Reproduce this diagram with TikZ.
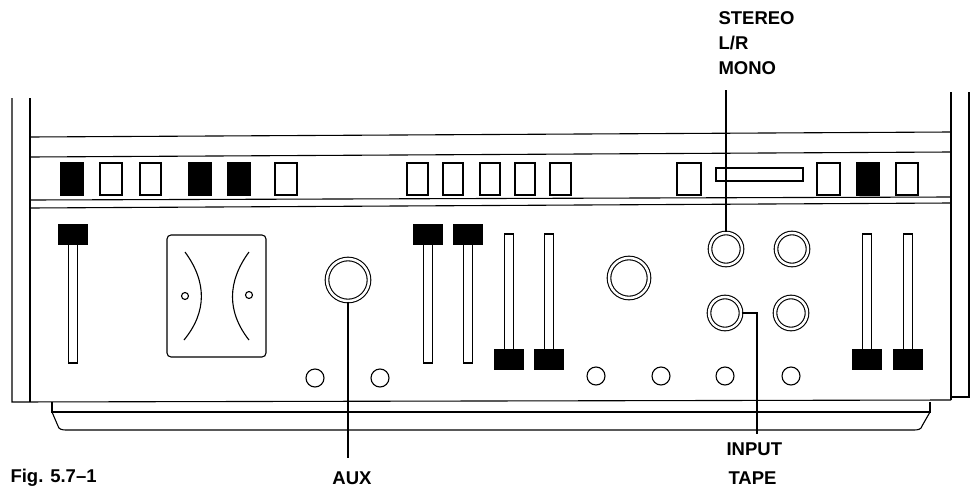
\documentclass[tikz,border=0pt]{standalone}
\usepackage{fontspec}
\setmainfont{Liberation Sans}
\begin{document}
\begin{tikzpicture}[x=1pt,y=-1pt,line width=1.1pt,
  lbl/.style={font=\fontsize{18.5}{20}\selectfont\bfseries,inner sep=0pt,anchor=west},
  btnon/.style={fill=black,draw=black},
  btnoff/.style={draw=black,fill=white},
  knob/.style={draw=black,double=white,double distance=2.5pt},
  small/.style={draw=black}]
\useasboundingbox (0,0) rectangle (976,495);
% cabinet
\draw (12,98) -- (12,402) -- (951,400);
\draw (30,98) -- (30,402);
\draw (969,92) -- (969,397) -- (951,397);
\draw (951,92) -- (951,400);
\draw (30,137) -- (951,132);
\draw (30,157) -- (951,152);
\draw (30,200) -- (951,197);
\draw (30,208) -- (951,203);
% base
\draw (52,402) -- (52,412) -- (930,412) -- (930,402);
\draw (52,412) -- (58,426) to[out=-80,in=180] (66,430) -- (914,430) to[out=0,in=-100] (922,426) -- (930,412);
% buttons
\foreach \a/\b/\s in {61/83/btnon,100/122/btnoff,140/161/btnoff,189/211/btnon,228/250/btnon,275/297/btnoff,407/428/btnoff,443/463/btnoff,480/500/btnoff,515/535/btnoff,550/571/btnoff,677/701/btnoff,817/840/btnoff,857/879/btnon,896/918/btnoff}
  \draw[\s] (\a,163) rectangle (\b,195);
\draw (716,168) rectangle (803,181);
% sliders (top cap)
\foreach \c in {73,428,468}{
  \draw (\c-4.5,244) rectangle (\c+4.5,363);
  \fill (\c-15,224) rectangle (\c+15,245);}
% sliders (bottom cap)
\foreach \c in {509,549,867,908}{
  \draw (\c-4.5,234) rectangle (\c+4.5,350);
  \fill (\c-15,349) rectangle (\c+15,370);}
% meter
\draw[rounded corners=4pt] (167,235) rectangle (266,357);
\draw (185,252) .. controls (207,282) and (207,312) .. (184,340);
\draw (249,252) .. controls (227,282) and (227,312) .. (249,340);
\draw (185,296) circle (3.5);
\draw (249,295) circle (3.5);
% knobs
\node[knob,circle,minimum size=42pt,inner sep=0pt] (aux) at (348,280) {};
\node[knob,circle,minimum size=40pt,inner sep=0pt] (big) at (629,278) {};
\node[knob,circle,minimum size=32pt,inner sep=0pt] (jA) at (726,249) {};
\node[knob,circle,minimum size=32pt,inner sep=0pt] (jB) at (792,249) {};
\node[knob,circle,minimum size=32pt,inner sep=0pt] (jC) at (725,313) {};
\node[knob,circle,minimum size=32pt,inner sep=0pt] (jD) at (791,313) {};
\foreach \x/\y in {315/378,380/378,596/376,661/376,725/376,791/376}
  \draw (\x,\y) circle (9);
% labels
\node[lbl] (st) at (718,18) {STEREO};
\node[lbl] (lr) at (718,43) {L/R};
\node[lbl] (mono) at (718,68) {MONO};
\node[lbl] (inp) at (726,449) {INPUT};
\node[lbl] (tape) at (728,478) {TAPE};
\node[lbl,anchor=center] (auxl) at (352,478) {AUX};
\node[lbl] (fig) at (10,478) {Fig. 5.7--1};
\coordinate (stTop) at (726,90);
\draw[line width=1.3pt] (stTop) -- (jA.north);
\draw[line width=1.3pt] (aux.south) -- ++(0,156) coordinate (auxEnd);
\draw[line width=1.3pt] (jC.east) -- (757,313) -- (757,434) coordinate (inEnd);
\end{tikzpicture}
\end{document}
